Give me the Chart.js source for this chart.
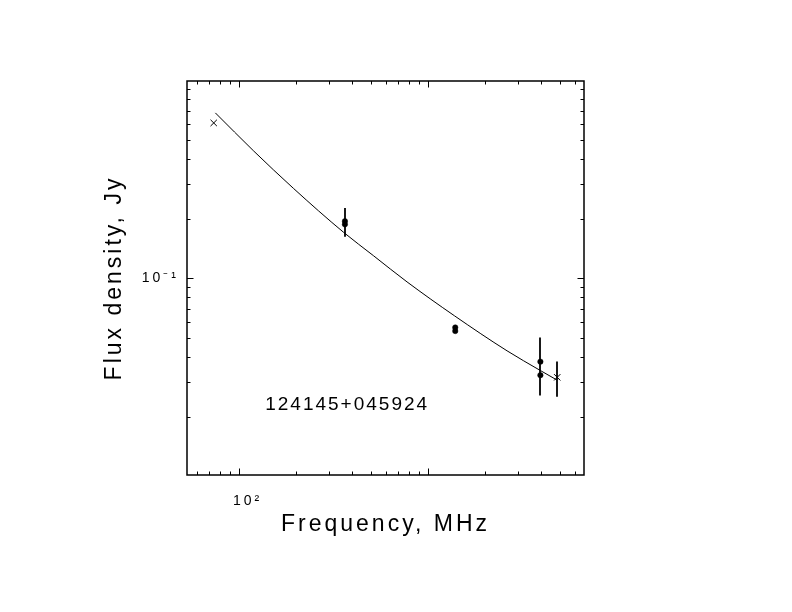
<!DOCTYPE html>
<html>
<head>
<meta charset="utf-8">
<script src="https://cdn.jsdelivr.net/npm/chart.js@4.4.1/dist/chart.umd.min.js"></script>
<style>
  html, body { margin: 0; padding: 0; background: #fff; }
  #wrap { width: 792px; height: 612px; }
</style>
</head>
<body>
<div id="wrap"><canvas id="chartSed"></canvas></div>
<script>
// datos (MHz, Jy)
const crossFreq = [73.8, 4850];
const crossFlux = [0.608, 0.0316];
const crossErr = [0, 0.0064];

const dotFreq = [365, 365, 1400, 1400, 3950, 3950];
const dotFlux = [0.194, 0.187, 0.0564, 0.0541, 0.0379, 0.0324];
const dotErr = [0.032, 0, 0, 0, 0.0123, 0];

// curva ajustada
const fitFreq = [75.3, 120.1, 195.4, 359.4, 518, 778, 1390, 2631, 3948, 4838];
const fitFlux = [0.6833, 0.4388, 0.2836, 0.1704, 0.1297, 0.0958, 0.0645, 0.0430, 0.0342, 0.0306];

// ticks
const xTicks = [60, 70, 80, 90, 100, 200, 300, 400, 500, 600, 700, 800, 900, 1000, 2000, 3000, 4000, 5000, 6000];
const xMajor = [100, 1000];
const xLabels = { 100: "10²" };
const yTicks = [0.02, 0.03, 0.04, 0.05, 0.06, 0.07, 0.08, 0.09, 0.1, 0.2, 0.3, 0.4, 0.5, 0.6, 0.7, 0.8, 0.9];
const yMajor = [0.1];
const yLabels = { 0.1: "10⁻¹" };

const sourceName = "124145+045924";

const el = (id) => document.getElementById(id);
const FONT = "'Liberation Sans', Arial, sans-serif";
const toXY = (xs, ys) => xs.map((x, i) => ({ x, y: ys[i] }));

// marco, ticks hacia dentro, barras de error y nombre
const framePlugin = {
  id: "frame",
  beforeDraw(chart) {
    chart.ctx.letterSpacing = "3px";
  },
  afterDatasetsDraw(chart) {
    const { ctx } = chart;
    const xs = chart.scales.x, ys = chart.scales.y;
    ctx.save();
    ctx.strokeStyle = "#000";
    ctx.lineWidth = 1.8;
    const bars = (fr, fl, er) => fr.forEach((f, i) => {
      if (!er[i]) return;
      const px = Math.round(xs.getPixelForValue(f));
      ctx.beginPath();
      ctx.moveTo(px, ys.getPixelForValue(fl[i] + er[i]));
      ctx.lineTo(px, ys.getPixelForValue(fl[i] - er[i]));
      ctx.stroke();
    });
    bars(crossFreq, crossFlux, crossErr);
    bars(dotFreq, dotFlux, dotErr);
    ctx.restore();
  },
  afterDraw(chart) {
    const { ctx, chartArea: a } = chart;
    const xs = chart.scales.x, ys = chart.scales.y;
    ctx.save();
    ctx.strokeStyle = "#000";
    ctx.lineWidth = 1.5;
    ctx.strokeRect(a.left, a.top, a.right - a.left, a.bottom - a.top);
    ctx.beginPath();
    xTicks.forEach((v) => {
      const px = Math.round(xs.getPixelForValue(v)) + 0.5;
      const len = xMajor.includes(v) ? 6.5 : 3.5;
      ctx.moveTo(px, a.bottom); ctx.lineTo(px, a.bottom - len);
      ctx.moveTo(px, a.top); ctx.lineTo(px, a.top + len);
    });
    yTicks.forEach((v) => {
      const py = Math.round(ys.getPixelForValue(v)) + 0.5;
      const len = yMajor.includes(v) ? 6.5 : 3.5;
      ctx.moveTo(a.left, py); ctx.lineTo(a.left + len, py);
      ctx.moveTo(a.right, py); ctx.lineTo(a.right - len, py);
    });
    ctx.lineWidth = 1;
    ctx.stroke();

    ctx.letterSpacing = "2px";
    ctx.fillStyle = "#000";
    ctx.font = "19px " + FONT;
    ctx.textAlign = "left";
    ctx.textBaseline = "alphabetic";
    const w = a.right - a.left, h = a.bottom - a.top;
    ctx.fillText(sourceName, a.left + 0.197 * w, a.top + 0.834 * h);
    ctx.restore();
  },
};

let chartSed;
function renderChart() {
  const ctx = el("chartSed").getContext("2d");
  if (chartSed) chartSed.destroy();
  chartSed = new Chart(ctx, {
    type: "scatter",
    data: {
      datasets: [
        {
          label: "fit",
          data: toXY(fitFreq, fitFlux),
          showLine: true,
          borderColor: "#000",
          borderWidth: 1,
          pointRadius: 0,
          cubicInterpolationMode: "monotone",
        },
        {
          label: "cross",
          data: toXY(crossFreq, crossFlux),
          pointStyle: "crossRot",
          pointRadius: 4.5,
          borderColor: "#000",
          borderWidth: 1,
        },
        {
          label: "dots",
          data: toXY(dotFreq, dotFlux),
          pointStyle: "circle",
          pointRadius: 2.7,
          backgroundColor: "#000",
          borderColor: "#000",
          borderWidth: 0.5,
        },
      ],
    },
    options: {
      responsive: true,
      maintainAspectRatio: false,
      animation: false,
      layout: { padding: { left: 0, top: 81, right: 208, bottom: 0 } },
      scales: {
        x: {
          type: "logarithmic",
          min: 53.3,
          max: 6720,
          grid: { display: false },
          border: { display: false },
          afterBuildTicks: (s) => { s.ticks = xTicks.map((v) => ({ value: v, major: xMajor.includes(v) })); },
          afterFit: (s) => { s.height = 137; },
          ticks: {
            autoSkip: false,
            maxRotation: 0,
            padding: 10,
            labelOffset: 9,
            color: "#000",
            font: { family: FONT, size: 14 },
            callback: (v) => xLabels[v] || "",
          },
          title: {
            display: true,
            text: "Frequency, MHz",
            color: "#000",
            font: { family: FONT, size: 23 },
            padding: { top: 0, bottom: 74 },
          },
        },
        y: {
          type: "logarithmic",
          min: 0.01015,
          max: 0.99,
          grid: { display: false },
          border: { display: false },
          afterBuildTicks: (s) => { s.ticks = yTicks.map((v) => ({ value: v, major: yMajor.includes(v) })); },
          afterFit: (s) => { s.width = 187; },
          ticks: {
            autoSkip: false,
            padding: 0,
            color: "#000",
            font: { family: FONT, size: 14 },
            callback: (v) => yLabels[v] || "",
          },
          title: {
            display: true,
            text: "Flux density, Jy",
            color: "#000",
            font: { family: FONT, size: 23 },
            padding: { top: 101, bottom: 0 },
          },
        },
      },
      plugins: { legend: { display: false }, tooltip: { enabled: false } },
    },
    plugins: [framePlugin],
  });
}

document.addEventListener("DOMContentLoaded", () => {
  renderChart();
});
</script>
</body>
</html>
